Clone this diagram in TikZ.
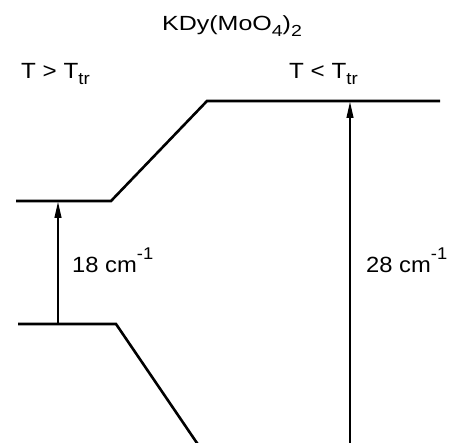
\documentclass[tikz,border=0pt]{standalone}
\usepackage{fontspec}
\usepackage{graphicx}
\setmainfont{Liberation Sans}
\usetikzlibrary{arrows.meta}
\newcommand\lsub[1]{\raisebox{-6pt}{\fontsize{17}{17}\selectfont #1}}
\newcommand\lsup[1]{\raisebox{12.5pt}{\fontsize{17}{17}\selectfont #1}}
\newcommand\tsub[1]{\raisebox{-5.5pt}{\fontsize{16}{16}\selectfont #1}}
\begin{document}
\begin{tikzpicture}[x=1pt,y=-1pt,
  level/.style={line width=2.6pt},
  gap/.style={line width=1.1pt,-{Triangle[length=16pt,width=7pt]}},
  lbl/.style={inner sep=0pt,font=\fontsize{22}{24}\selectfont},
  ttl/.style={inner sep=0pt,font=\fontsize{20.5}{22}\selectfont}]
\useasboundingbox (0,0) rectangle (454,443);
% levels
\coordinate (ul1) at (16,201);
\coordinate (ul2) at (111,201);
\coordinate (ll1) at (18,324);
\coordinate (ll2) at (116,324);
\coordinate (ur1) at (207,101);
\coordinate (ur2) at (440,101);
\coordinate (lr1) at (199,446);
\coordinate (lr2) at (440,446);
\draw[level,line join=miter] (ul1) -- (ul2) -- (ur1) -- (ur2);
\draw[level,line join=miter] (ll1) -- (ll2) -- (lr1) -- (lr2);
% gap arrows
\coordinate (a1s) at (58,324);
\coordinate (a1e) at (58,202);
\coordinate (a2s) at (350,446);
\coordinate (a2e) at (350,102);
\draw[gap] (a1s) -- (a1e);
\draw[gap] (a2s) -- (a2e);
% texts
\node[ttl,anchor=base] (title) at (232,31) {\scalebox{1.22}[1]{KDy(MoO\tsub{4})\tsub{2}}};
\node[lbl,anchor=base west] (thi) at (21,79) {\scalebox{1.1}[1]{T > T\lsub{tr}}};
\node[lbl,anchor=base west] (tlo) at (289,79) {\scalebox{1.1}[1]{T < T\lsub{tr}}};
\node[lbl,anchor=base west] (g1) at (72,272) {\scalebox{1.08}[1]{18 cm\lsup{-1}}};
\node[lbl,anchor=base west] (g2) at (366,272) {\scalebox{1.08}[1]{28 cm\lsup{-1}}};
\end{tikzpicture}
\end{document}
